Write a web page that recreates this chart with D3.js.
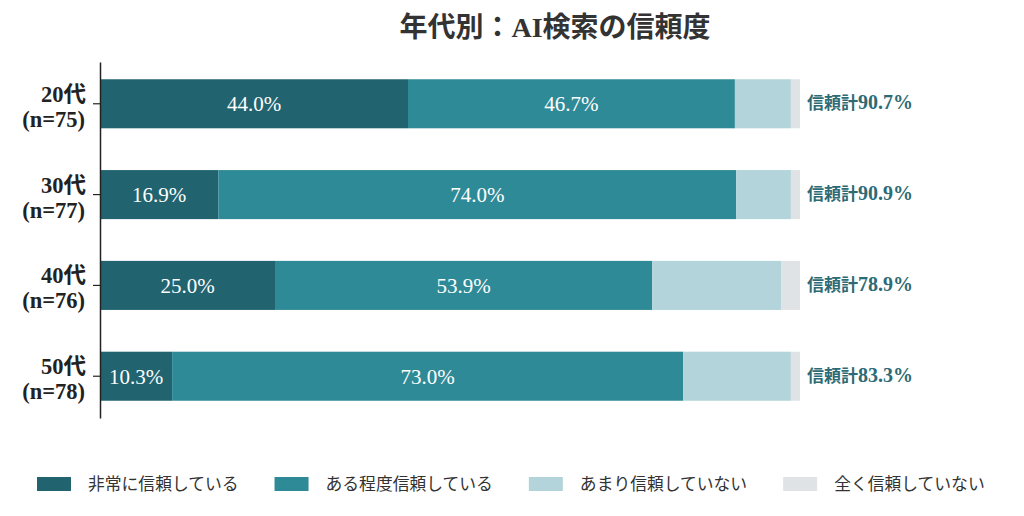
<!DOCTYPE html>
<html>
<head>
<meta charset="utf-8">
<script src="https://cdn.jsdelivr.net/npm/d3@7"></script>
<style>
  body { margin: 0; background: #fff; }
  svg { display: block; }
  .serif { font-family: "Liberation Serif", "DejaVu Serif", "Noto Sans CJK JP", serif; }
  .cjk { font-family: "Noto Sans CJK JP", sans-serif; }
  .legend text { font-family: "Noto Sans CJK JP", "Noto Sans", sans-serif; }
</style>
</head>
<body>
<svg id="chart" width="1024" height="516"></svg>
<script>
let ages = ['20代', '30代', '40代', '50代']
let counts = ['(n=75)', '(n=77)', '(n=76)', '(n=78)']
let seriesNames = ['非常に信頼している', 'ある程度信頼している', 'あまり信頼していない', '全く信頼していない']
let veryTrust = [44.0, 16.9, 25.0, 10.3]
let someTrust = [46.7, 74.0, 53.9, 73.0]
let littleTrust = [8.0, 7.8, 18.4, 15.4]
let noTrust = [1.3, 1.3, 2.7, 1.3]
let colors = ['#216470', '#2f8a97', '#b2d4da', '#dfe3e6']

let rows = ages.map((age, i) => ({
  age: age,
  n: counts[i],
  [seriesNames[0]]: veryTrust[i],
  [seriesNames[1]]: someTrust[i],
  [seriesNames[2]]: littleTrust[i],
  [seriesNames[3]]: noTrust[i]
}))

let svg = d3.select('#chart')

let x = d3.scaleLinear()
  .domain([0, 100])
  .range([100, 800])

let y = d3.scaleBand()
  .domain(ages)
  .range([62, 418])
  .paddingInner(0.46)
  .paddingOuter(0.19)

let color = d3.scaleOrdinal()
  .domain(seriesNames)
  .range(colors)

let stacked = d3.stack().keys(seriesNames)(rows)

// title
svg.append('text')
  .classed('serif', true)
  .attr('x', 555)
  .attr('y', 37)
  .attr('text-anchor', 'middle')
  .attr('font-size', 28)
  .attr('font-weight', 'bold')
  .attr('fill', '#333')
  .text('年代別：AI検索の信頼度')

let layers = svg.selectAll('.layer')
  .data(stacked)
  .enter()
  .append('g')
  .classed('layer', true)
  .attr('fill', d => color(d.key))

layers.selectAll('rect')
  .data(d => d)
  .enter()
  .append('rect')
  .attr('x', d => x(d[0]))
  .attr('width', d => x(d[1]) - x(d[0]))
  .attr('y', d => y(d.data.age))
  .attr('height', y.bandwidth())

// value labels on the first two series
layers.filter((d, i) => i < 2)
  .selectAll('.value')
  .data(d => d)
  .enter()
  .append('text')
  .classed('serif', true)
  .attr('x', d => (x(d[0]) + x(d[1])) / 2)
  .attr('y', d => y(d.data.age) + y.bandwidth() / 2)
  .attr('dy', '0.35em')
  .attr('text-anchor', 'middle')
  .attr('font-size', 21)
  .attr('fill', '#fff')
  .text(d => (d[1] - d[0]).toFixed(1) + '%')

// total trust labels
let totals = svg.selectAll('.total')
  .data(rows)
  .enter()
  .append('text')
  .attr('x', x(100) + 7)
  .attr('y', d => y(d.age) + y.bandwidth() / 2)
  .attr('dy', '0.35em')
  .attr('font-weight', 'bold')
  .attr('fill', '#2c6b75')

totals.append('tspan')
  .classed('cjk', true)
  .attr('font-size', 17)
  .text('信頼計')

totals.append('tspan')
  .classed('serif', true)
  .attr('font-size', 20)
  .text(d => (d[seriesNames[0]] + d[seriesNames[1]]).toFixed(1) + '%')

// y axis
let yAxis = svg.append('g')
  .attr('transform', `translate(${x(0)},0)`)
  .call(d3.axisLeft(y).tickSize(7).tickSizeOuter(0).tickFormat(''))

yAxis.select('.domain').attr('stroke', '#222').attr('stroke-width', 1.5)
yAxis.selectAll('.tick line').attr('stroke', '#222').attr('stroke-width', 1.2)

let yLabels = svg.selectAll('.ylabel')
  .data(rows)
  .enter()
  .append('text')
  .classed('serif', true)
  .attr('text-anchor', 'end')
  .attr('font-size', 22.5)
  .attr('font-weight', 'bold')
  .attr('fill', '#222')

yLabels.append('tspan')
  .attr('x', 86)
  .attr('y', d => y(d.age) + y.bandwidth() / 2 - 2)
  .text(d => d.age)

yLabels.append('tspan')
  .attr('x', 85)
  .attr('y', d => y(d.age) + y.bandwidth() / 2 + 23)
  .text(d => d.n)

// legend
let legend = svg.append('g')
  .classed('legend', true)
  .attr('transform', 'translate(37,484)')

let offset = 0
seriesNames.forEach(name => {
  let item = legend.append('g').attr('transform', `translate(${offset},0)`)
  item.append('rect')
    .attr('x', 0)
    .attr('y', -7)
    .attr('width', 34)
    .attr('height', 14)
    .attr('fill', color(name))
  let label = item.append('text')
    .attr('x', 51)
    .attr('dy', '0.35em')
    .attr('font-size', 16.8)
    .attr('fill', '#333')
    .text(name)
  offset += 51 + label.node().getComputedTextLength() + 36
})
</script>
</body>
</html>
